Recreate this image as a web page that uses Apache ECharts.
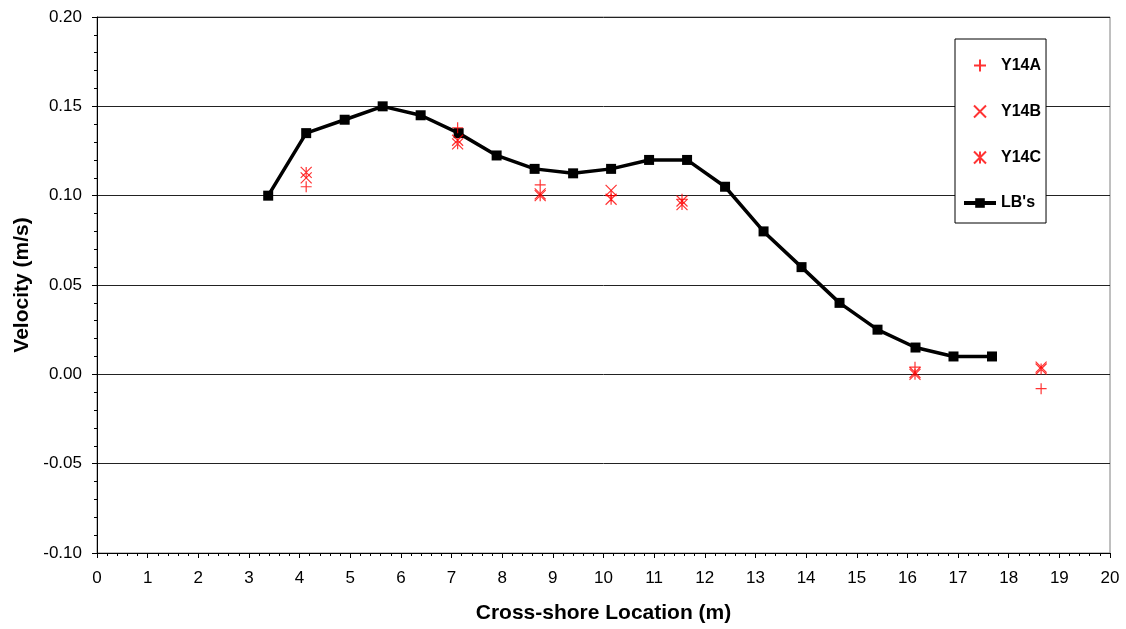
<!DOCTYPE html>
<html>
<head>
<meta charset="utf-8">
<script src="https://cdn.jsdelivr.net/npm/echarts@6/dist/echarts.min.js"></script>
<style>
  html, body { margin: 0; padding: 0; background: #fff; }
  #chart { width: 1126px; height: 629px; }
</style>
</head>
<body>
<div id="chart"></div>
<script>
// LB's curve
const lbX = [3.38, 4.13, 4.89, 5.64, 6.39, 7.14, 7.89, 8.64, 9.40, 10.15, 10.90, 11.65, 12.40, 13.16, 13.91, 14.66, 15.41, 16.16, 16.91, 17.67]
const lbY = [0.100, 0.135, 0.1425, 0.150, 0.145, 0.135, 0.1225, 0.115, 0.1125, 0.115, 0.120, 0.120, 0.105, 0.080, 0.060, 0.040, 0.025, 0.015, 0.010, 0.010]

// measured points
const measX = [4.13, 7.12, 8.75, 10.15, 11.55, 16.15, 18.64]
const y14a = [0.105, 0.138, 0.106, 0.100, 0.098, 0.004, -0.008]
const y14b = [0.110, 0.131, 0.101, 0.103, 0.097, 0.001, 0.004]
const y14c = [0.113, 0.129, 0.100, 0.098, 0.095, 0.000, 0.003]

const plusPath = 'path://M5,0 L5,10 M0,5 L10,5'
const crossPath = 'path://M0,0 L10,10 M10,0 L0,10'
const starPath = 'path://M0,0 L10,10 M10,0 L0,10 M5,0 L5,10'

const axisColor = '#000'
const font = 'Liberation Sans, Arial, sans-serif'

function pairs(xs, ys) {
  return xs.map((x, i) => [x, ys[i]])
}

function markSeries(name, path, ys) {
  return {
    name: name,
    type: 'scatter',
    symbol: path,
    symbolSize: 11,
    symbolKeepAspect: true,
    itemStyle: {
      color: 'none',
      borderColor: '#ff0000',
      borderWidth: 1.2
    },
    data: pairs(measX, ys),
    z: 3
  }
}

const chart = echarts.init(document.getElementById('chart'))
chart.setOption({
  animation: false,
  backgroundColor: '#fff',
  textStyle: { fontFamily: font },
  grid: {
    left: 97,
    right: 16,
    top: 17,
    bottom: 76,
    show: true,
    borderColor: '#808080',
    borderWidth: 1
  },
  legend: {
    orient: 'vertical',
    left: 955,
    top: 39,
    padding: [18, 5, 12, 7],
    itemGap: 29,
    itemWidth: 32,
    itemHeight: 12,
    backgroundColor: '#fff',
    borderColor: '#000',
    borderWidth: 1,
    borderRadius: 0,
    textStyle: { fontFamily: font, fontWeight: 'bold', fontSize: 16, color: '#000' },
    data: [
      'Y14A',
      'Y14B',
      'Y14C',
      { name: "LB's", lineStyle: { width: 4, color: '#000' } }
    ]
  },
  xAxis: {
    type: 'value',
    min: 0,
    max: 20,
    interval: 1,
    name: 'Cross-shore Location (m)',
    nameLocation: 'middle',
    nameGap: 50,
    nameTextStyle: { fontFamily: font, fontWeight: 'bold', fontSize: 21, color: '#000' },
    axisLine: { onZero: false, lineStyle: { color: axisColor, width: 1 } },
    axisTick: { show: true, length: 5, lineStyle: { color: axisColor } },
    minorTick: { show: true, splitNumber: 5, length: 3, lineStyle: { color: axisColor } },
    axisLabel: { fontFamily: font, fontSize: 17, color: '#000', margin: 17 },
    splitLine: { show: false }
  },
  yAxis: {
    type: 'value',
    min: -0.1,
    max: 0.2,
    interval: 0.05,
    name: 'Velocity (m/s)',
    nameLocation: 'middle',
    nameGap: 59,
    nameTextStyle: { fontFamily: font, fontWeight: 'bold', fontSize: 21, color: '#000' },
    axisLine: { show: true, lineStyle: { color: axisColor, width: 1 } },
    axisTick: { show: true, length: 5, lineStyle: { color: axisColor } },
    minorTick: { show: true, splitNumber: 5, length: 3, lineStyle: { color: axisColor } },
    axisLabel: {
      fontFamily: font,
      fontSize: 17,
      color: '#000',
      margin: 15,
      formatter: v => v.toFixed(2)
    },
    splitLine: { show: true, lineStyle: { color: '#222', width: 1 } }
  },
  series: [
    markSeries('Y14A', plusPath, y14a),
    markSeries('Y14B', crossPath, y14b),
    markSeries('Y14C', starPath, y14c),
    {
      name: "LB's",
      type: 'line',
      data: pairs(lbX, lbY),
      symbol: 'rect',
      symbolSize: 10,
      showAllSymbol: true,
      lineStyle: { color: '#000', width: 3.5 },
      itemStyle: { color: '#000' },
      z: 2
    }
  ]
})
</script>
</body>
</html>
